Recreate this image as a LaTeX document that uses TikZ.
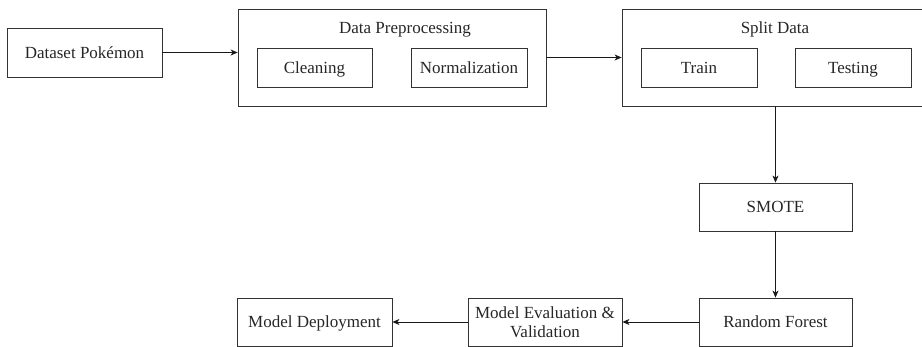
\documentclass[tikz,border=0pt]{standalone}
\usepackage{fontspec}
\setmainfont{Liberation Serif}
\usetikzlibrary{arrows.meta}
\begin{document}
\begin{tikzpicture}[x=1pt,y=-1pt,
  every node/.style={font=\fontsize{17}{19.5}\selectfont, text=black!85, inner sep=0pt},
  box/.style={draw=black!80, line width=0.8pt, rectangle, anchor=center},
  oneline/.style={text height=11.6pt, text depth=0pt},
  title/.style={anchor=center},
  conn/.style={draw=black!90, line width=0.8pt, -{Stealth[length=7pt,width=6pt,inset=2pt]}}]
\useasboundingbox (0,0) rectangle (922,347);
% nodes
\node[box, oneline, minimum width=155pt, minimum height=49pt] (ds) at (84.5,52.5) {Dataset Pokémon};
\node[box, minimum width=308pt, minimum height=97pt] (dp) at (392,57.5) {};
\node[title] (dpt) at (405,29.5) {Data Preprocessing};
\node[box, oneline, minimum width=115pt, minimum height=39pt] (clean) at (314.5,67.5) {Cleaning};
\node[box, oneline, minimum width=116pt, minimum height=39pt] (norm) at (469,67.5) {Normalization};
\node[box, minimum width=308pt, minimum height=97pt] (split) at (776,57.5) {};
\node[title] (splitt) at (775,29.5) {Split Data};
\node[box, oneline, minimum width=116pt, minimum height=39pt] (train) at (699,67.5) {Train};
\node[box, oneline, minimum width=116pt, minimum height=39pt] (test) at (853,67.5) {Testing};
\node[box, oneline, minimum width=153pt, minimum height=48pt] (smote) at (775.5,207) {SMOTE};
\node[box, oneline, minimum width=153pt, minimum height=48pt] (rf) at (775.5,322) {Random Forest};
\node[box, minimum width=154pt, minimum height=48pt, align=center] (eval) at (545,322) {Model Evaluation \&\\Validation};
\node[box, oneline, minimum width=155pt, minimum height=48pt] (deploy) at (314.5,322) {Model Deployment};
% connectors
\draw[conn] (ds.east) -- (ds.east -| dp.west);
\draw[conn] (dp.east) -- (split.west);
\draw[conn] (split.south -| smote.north) -- (smote.north);
\draw[conn] (smote.south) -- (rf.north);
\draw[conn] (rf.west) -- (eval.east);
\draw[conn] (eval.west) -- (deploy.east);
\end{tikzpicture}
\end{document}
